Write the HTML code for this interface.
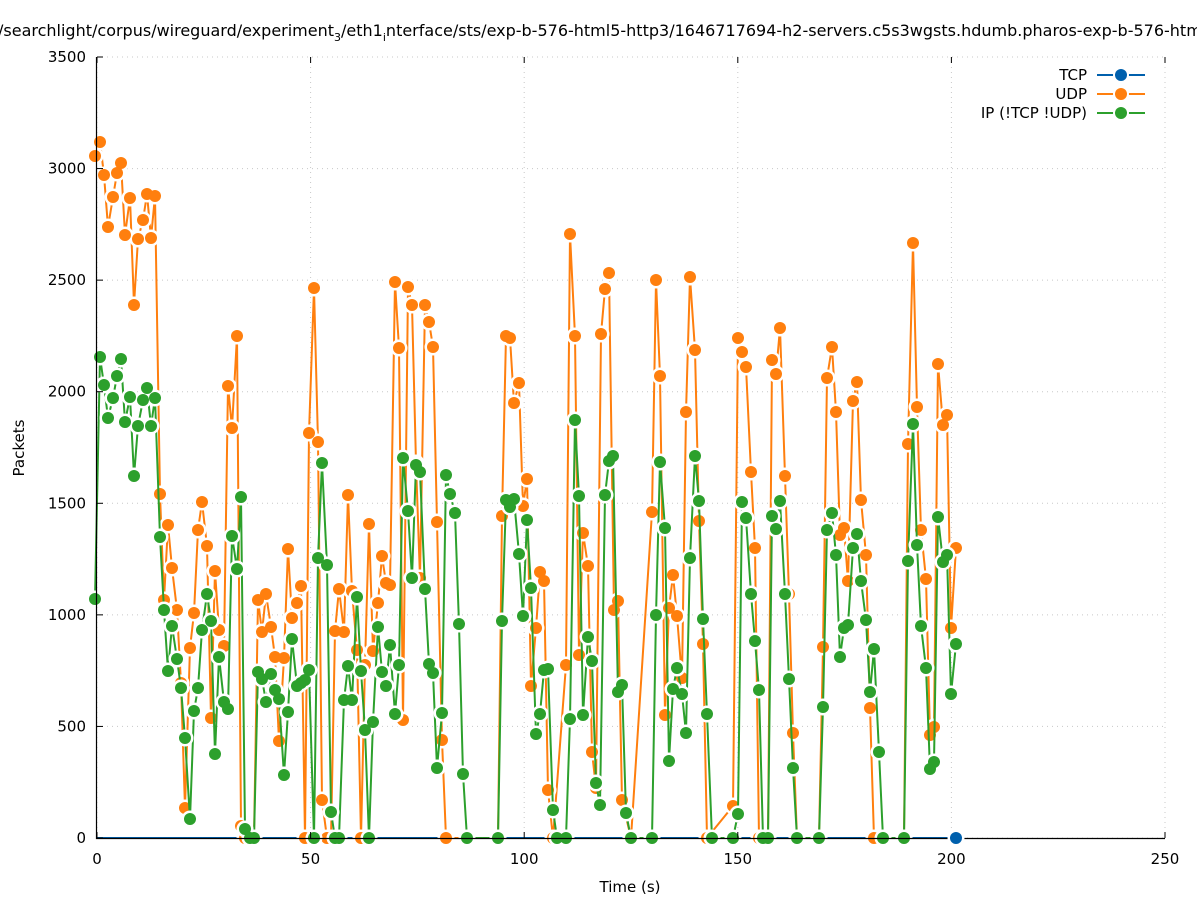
<!DOCTYPE html>
<html><head><meta charset="utf-8"><style>
body{margin:0;background:#fff;width:1197px;height:900px;overflow:hidden}
svg text{font-family:"DejaVu Sans","Liberation Sans",sans-serif;fill:#000}
</style></head><body>
<svg id="s" width="1197" height="900" xmlns="http://www.w3.org/2000/svg">
<text x="-2" y="36" font-size="16">/searchlight/corpus/wireguard/experiment<tspan font-size="11" dy="5">3</tspan><tspan dy="-5">/eth1</tspan><tspan font-size="11" dy="5">i</tspan><tspan dy="-5">nterface/sts/exp-b-576-html5-http3/1646717694-h2-servers.c5s3wgsts.hdumb.pharos-exp-b-576-html5-http3</tspan></text>
<g id="grid" stroke="#c8c8c8" stroke-width="1" stroke-dasharray="1,4"></g>
<g id="data"></g>
<g id="ax"></g>
<text x="630" y="892" font-size="15" text-anchor="middle">Time (s)</text>
<text transform="translate(24,448) rotate(-90)" font-size="15" text-anchor="middle">Packets</text>
<g font-size="15">
<text x="1087" y="80" text-anchor="end">TCP</text>
<text x="1087" y="99" text-anchor="end">UDP</text>
<text x="1087" y="118" text-anchor="end">IP (!TCP  !UDP)</text>
<line x1="1097" y1="75" x2="1145" y2="75" stroke="#0060ad" stroke-width="2"/><circle cx="1121" cy="75" r="8" fill="#fff"/><circle cx="1121" cy="75" r="6" fill="#0060ad"/>
<line x1="1097" y1="94" x2="1145" y2="94" stroke="#ff7f0e" stroke-width="2"/><circle cx="1121" cy="94" r="8" fill="#fff"/><circle cx="1121" cy="94" r="6" fill="#ff7f0e"/>
<line x1="1097" y1="113" x2="1145" y2="113" stroke="#2ca02c" stroke-width="2"/><circle cx="1121" cy="113" r="8" fill="#fff"/><circle cx="1121" cy="113" r="6" fill="#2ca02c"/>
</g>
</svg>
<script>
var NS="http://www.w3.org/2000/svg";
function el(p,t,a,txt){var e=document.createElementNS(NS,t);for(var k in a)e.setAttribute(k,a[k]);if(txt!=null)e.textContent=txt;p.appendChild(e);return e;}
var g=document.getElementById('grid'),ax=document.getElementById('ax'),d=document.getElementById('data');
var X0=97,X1=1165,Y0=838,Y1=57;
for(var i=0;i<=5;i++){var x=X0+(X1-X0)*i/5;el(g,'line',{x1:x,y1:Y0,x2:x,y2:Y1});
el(ax,'line',{x1:x,y1:Y0,x2:x,y2:Y0-6,stroke:'#000'});el(ax,'line',{x1:x,y1:Y1,x2:x,y2:Y1+6,stroke:'#000'});
el(ax,'text',{x:x,y:864,'font-size':15,'text-anchor':'middle'},String(i*50));}
for(var i=0;i<=7;i++){var y=Y0-(Y0-Y1)*i/7;el(g,'line',{x1:X0,y1:y,x2:X1,y2:y});
el(ax,'line',{x1:X0,y1:y,x2:X0+6,y2:y,stroke:'#000'});
el(ax,'text',{x:86,y:y+5,'font-size':15,'text-anchor':'end'},String(i*500));}
el(ax,'path',{d:'M96.5 57 V838.5 H1165',stroke:'#000',fill:'none','stroke-width':1.2});
var G=[[95,599],[100,357],[104,385],[108,418],[113,398],[117,376],[121,359],[125,422],[130,397],[134,476],[138,426],[143,400],[147,388],[151,426],[155,398],[160,537],[164,610],[168,671],[172,626],[177,659],[181,688],[185,738],[190,819],[194,711],[198,688],[202,630],[207,594],[211,621],[215,754],[219,657],[224,702],[228,709],[232,536],[237,569],[241,497],[245,829],[250,838],[254,838],[258,672],[262,679],[266,702],[271,674],[275,690],[279,699],[284,775],[288,712],[292,639],[297,686],[301,683],[305,680],[309,670],[314,838],[318,558],[322,463],[327,565],[331,812],[335,838],[339,838],[344,700],[348,666],[352,700],[357,597],[361,671],[365,730],[369,838],[373,722],[378,627],[382,672],[386,686],[390,645],[395,714],[399,665],[403,458],[408,511],[412,578],[416,465],[420,472],[425,589],[429,664],[433,673],[437,768],[442,713],[446,475],[450,494],[455,513],[459,624],[463,774],[467,838],[498,838],[502,621],[506,500],[510,507],[514,499],[519,554],[523,616],[527,520],[531,588],[536,734],[540,714],[544,670],[548,669],[553,810],[557,838],[566,838],[570,719],[575,420],[579,496],[583,715],[588,637],[592,661],[596,783],[600,805],[605,495],[609,461],[613,456],[618,692],[622,685],[626,813],[631,838],[652,838],[656,615],[660,462],[665,528],[669,761],[673,689],[677,668],[682,694],[686,733],[690,558],[695,456],[699,501],[703,619],[707,714],[712,838],[733,838],[738,814],[742,502],[746,518],[751,594],[755,641],[759,690],[763,838],[768,838],[772,516],[776,529],[780,501],[785,594],[789,679],[793,768],[797,838],[819,838],[823,707],[827,530],[832,513],[836,555],[840,657],[844,628],[848,625],[853,548],[857,534],[861,581],[866,620],[870,692],[874,649],[879,752],[883,838],[904,838],[908,561],[913,424],[917,545],[921,626],[926,668],[930,769],[934,762],[938,517],[943,562],[947,555],[951,694],[956,644]];
var O=[[95,156],[100,142],[104,175],[108,227],[113,197],[117,173],[121,163],[125,235],[130,198],[134,305],[138,239],[143,220],[147,194],[151,238],[155,196],[160,494],[164,600],[168,525],[172,568],[177,610],[181,683],[185,808],[190,648],[194,613],[198,530],[202,502],[207,546],[211,718],[215,571],[219,630],[224,646],[228,386],[232,428],[237,336],[241,826],[245,838],[250,838],[254,838],[258,600],[262,632],[266,594],[271,627],[275,657],[279,741],[284,658],[288,549],[292,618],[297,603],[301,586],[305,838],[309,433],[314,288],[318,442],[322,800],[327,838],[331,838],[335,631],[339,589],[344,632],[348,495],[352,591],[357,650],[361,838],[365,665],[369,524],[373,651],[378,603],[382,556],[386,583],[390,585],[395,282],[399,348],[403,720],[408,287],[412,305],[416,463],[420,578],[425,305],[429,322],[433,347],[437,522],[442,740],[446,838],[498,838],[502,516],[506,336],[510,338],[514,403],[519,383],[523,506],[527,479],[531,686],[536,628],[540,572],[544,581],[548,790],[553,838],[566,665],[570,234],[575,336],[579,655],[583,533],[588,566],[592,752],[596,788],[601,334],[605,289],[609,273],[614,610],[618,601],[622,800],[631,838],[652,512],[656,280],[660,376],[665,715],[669,608],[673,575],[677,616],[682,678],[686,412],[690,277],[695,350],[699,521],[703,644],[707,838],[733,806],[738,338],[742,352],[746,367],[751,472],[755,548],[759,838],[768,838],[772,360],[776,374],[780,328],[785,476],[789,594],[793,733],[797,838],[819,838],[823,647],[827,378],[832,347],[836,412],[840,535],[844,528],[848,581],[853,401],[857,382],[861,500],[866,555],[870,708],[874,838],[904,838],[908,444],[913,243],[917,407],[921,530],[926,579],[930,735],[934,727],[938,364],[943,425],[947,415],[951,628],[956,548]];
function series(P,c,pts){el(d,'polyline',{points:P.map(function(p){return p.join(',')}).join(' '),fill:'none',stroke:c,'stroke-width':2});
if(pts){P.forEach(function(p){el(d,'circle',{cx:p[0],cy:p[1],r:8.5,fill:'#fff'});});
P.forEach(function(p){el(d,'circle',{cx:p[0],cy:p[1],r:6,fill:c});});}}
series([[97,838],[956,838]],'#0060ad',false);
series(O,'#ff7f0e',true);
series(G,'#2ca02c',true);
setTimeout(function(){},0);
</script>
<svg width="1197" height="900" style="position:absolute;left:0;top:0"><circle cx="956" cy="838" r="8.5" fill="#fff"/><circle cx="956" cy="838" r="6" fill="#0060ad"/></svg>
</body></html>
